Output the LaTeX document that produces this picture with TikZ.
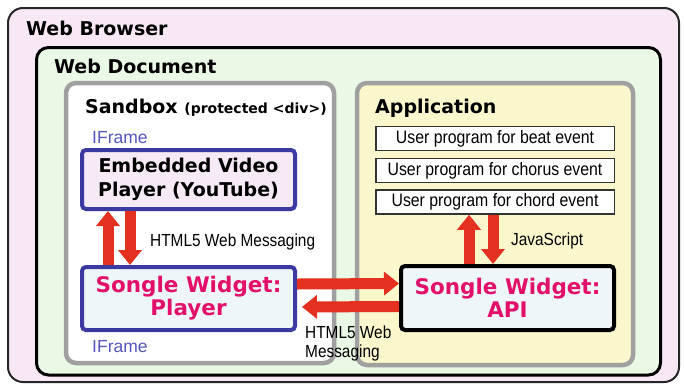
\documentclass[tikz,border=0pt]{standalone}
\usepackage{fontspec}
\setmainfont{DejaVu Sans}
\newfontfamily\labelfont{Liberation Sans}[FakeStretch=0.88]
\newfontfamily\framefont{Liberation Sans}
\usepackage{tikz}
\usetikzlibrary{arrows.meta}
\definecolor{browserpink}{RGB}{248,232,246}
\definecolor{docgreen}{RGB}{234,248,230}
\definecolor{appyellow}{RGB}{250,247,205}
\definecolor{boxgray}{RGB}{160,160,160}
\definecolor{iframeblue}{RGB}{58,58,160}
\definecolor{iframetext}{RGB}{85,85,190}
\definecolor{videopink}{RGB}{246,234,246}
\definecolor{widgetblue}{RGB}{238,246,250}
\definecolor{songlemagenta}{RGB}{226,16,106}
\definecolor{msgred}{RGB}{228,48,30}

\begin{document}
\begin{tikzpicture}[x=1pt, y=-1pt,
    heading/.style={anchor=base west, inner sep=0pt, font=\bfseries\fontsize{19}{23}\selectfont},
    msgtext/.style={anchor=base west, inner sep=0pt, font=\labelfont\fontsize{17.5}{19}\selectfont},
    frametext/.style={anchor=base west, inner sep=0pt, text=iframetext, font=\framefont\fontsize{17.5}{19}\selectfont},
    progbox/.style={draw=black!80, line width=1.5pt, fill=white, minimum width=238.5pt, minimum height=24pt, inner sep=0pt, font=\labelfont\fontsize{18}{20}\selectfont},
    widget/.style={line width=4pt, rounded corners=4pt, fill=widgetblue, minimum width=213pt, minimum height=63pt, inner sep=0pt, align=center, text=songlemagenta, font=\bfseries\fontsize{21.5}{23}\selectfont},
    msg/.style={draw=msgred, line width=11pt, -{Triangle[length=15pt,width=23pt]}}]
    \useasboundingbox (0,0) rectangle (684,386);

    % Containers
    \node[draw=black!85, line width=2pt, rounded corners=15pt, fill=browserpink, minimum width=671pt, minimum height=374pt] (browser) at (343.5,195) {};
    \node[draw=black, line width=3pt, rounded corners=12pt, fill=docgreen, minimum width=624pt, minimum height=327.5pt] (document) at (348.5,211.25) {};
    \node[draw=boxgray, line width=4.5pt, rounded corners=10pt, fill=white, minimum width=268pt, minimum height=280pt] (sandbox) at (200,223) {};
    \node[draw=boxgray, line width=4.5pt, rounded corners=10pt, fill=appyellow, minimum width=276pt, minimum height=282pt] (app) at (495,224) {};

    \node[heading] (browsertitle) at (26,35) {Web Browser};
    \node[heading] (doctitle) at (54,73) {Web Document};
    \node[heading] (sandboxtitle) at (85,113) {Sandbox {\fontsize{14}{16}\selectfont (protected <div>)}};
    \node[heading] (apptitle) at (375,113) {Application};

    % Sandbox side
    \node[frametext] (frametop) at (92,143) {IFrame};
    \node[draw=iframeblue, line width=4pt, rounded corners=4pt, fill=videopink, minimum width=213pt, minimum height=59pt, inner sep=0pt, align=center, font=\bfseries\fontsize{19}{24}\selectfont] (video) at (188.5,179.5) {Embedded Video\\Player (YouTube)};
    \node[widget, draw=iframeblue] (player) at (188.5,298.5) {Songle Widget:\\Player};
    \node[frametext] (framebottom) at (92,352) {IFrame};

    % Application side
    \node[progbox] (beat) at (495,138.5) {User program for beat event};
    \node[progbox] (chorus) at (495,170.5) {User program for chorus event};
    \node[progbox] (chord) at (495,202) {User program for chord event};
    \node[widget, draw=black, minimum height=64pt] (api) at (507.5,298) {Songle Widget:\\API};

    % Arrows
    \coordinate (apiup) at ([xshift=-38.5pt]api.north);
    \coordinate (apidown) at ([xshift=-14.5pt]api.north);
    \draw[msg] ([xshift=-80.5pt]player.north) -- ([xshift=-80.5pt]video.south);
    \draw[msg] ([xshift=-58.5pt]video.south) -- ([xshift=-58.5pt]player.north);
    \draw[msg] (apiup) -- (apiup |- chord.south);
    \draw[msg] (apidown |- chord.south) -- (apidown);
    \draw[msg] ([yshift=14.5pt]player.east) -- ([yshift=14.5pt]api.west);
    \draw[msg, shorten >=5pt] ([yshift=-8.5pt]api.west) -- ([yshift=-8.5pt]player.east);

    % Labels
    \node[msgtext] (msgleft) at (150,246) {HTML5 Web Messaging};
    \node[msgtext] (jslabel) at (511,245) {JavaScript};
    \node[msgtext, anchor=north west, align=left] (msgmiddle) at (305,325.5) {HTML5 Web\\Messaging};
\end{tikzpicture}
\end{document}
